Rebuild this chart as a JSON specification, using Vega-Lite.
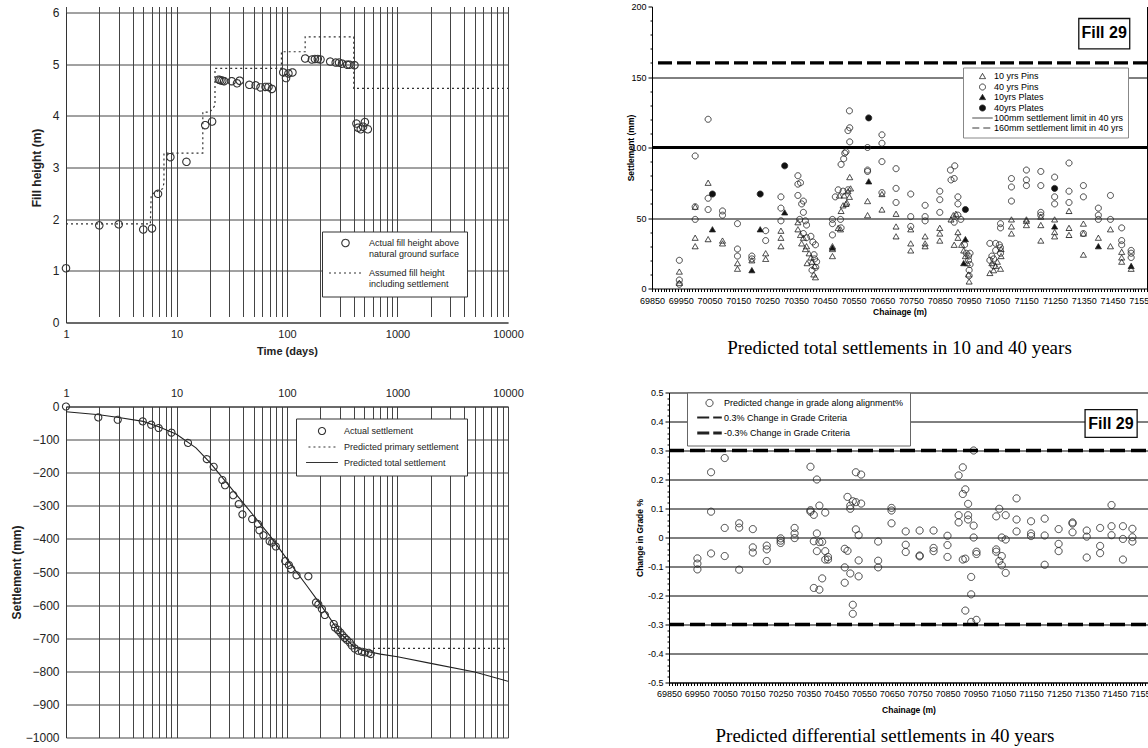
{
  "$schema": "https://vega.github.io/schema/vega-lite/v6.json",
  "background": "white",
  "padding": {"left": 10, "top": 2.5, "right": 0, "bottom": 0},
  "bounds": "flush",
  "spacing": 586,
  "resolve": {"scale": {"shape": "independent", "size": "independent", "fill": "independent", "strokeDash": "independent", "strokeWidth": "independent"}, "legend": {"shape": "independent", "size": "independent", "fill": "independent", "strokeDash": "independent", "strokeWidth": "independent"}},
  "config": {"view": {"stroke": null}, "font": "Liberation Sans"},
  "datasets": {
    "tl_pts": [
      {"t":1,"h":1.05,"k":"A"},{"t":2,"h":1.88,"k":"A"},{"t":3,"h":1.9,"k":"A"},{"t":5,"h":1.8,"k":"A"},{"t":6,"h":1.82,"k":"A"},{"t":6.8,"h":2.49,"k":"A"},{"t":8.8,"h":3.2,"k":"A"},{"t":12.3,"h":3.11,"k":"A"},{"t":18.2,"h":3.82,"k":"A"},{"t":21,"h":3.89,"k":"A"},{"t":24.2,"h":4.7,"k":"A"},{"t":25,"h":4.69,"k":"A"},{"t":26,"h":4.68,"k":"A"},{"t":27,"h":4.67,"k":"A"},{"t":31.6,"h":4.67,"k":"A"},{"t":35.3,"h":4.63,"k":"A"},{"t":37.3,"h":4.68,"k":"A"},{"t":45.6,"h":4.6,"k":"A"},{"t":52,"h":4.59,"k":"A"},{"t":57.6,"h":4.55,"k":"A"},{"t":64,"h":4.56,"k":"A"},{"t":68,"h":4.56,"k":"A"},{"t":73,"h":4.52,"k":"A"},{"t":92.5,"h":4.84,"k":"A"},{"t":98,"h":4.73,"k":"A"},{"t":103,"h":4.82,"k":"A"},{"t":112,"h":4.84,"k":"A"},{"t":146,"h":5.11,"k":"A"},{"t":168,"h":5.09,"k":"A"},{"t":179,"h":5.1,"k":"A"},{"t":190,"h":5.1,"k":"A"},{"t":201,"h":5.09,"k":"A"},{"t":246,"h":5.05,"k":"A"},{"t":276,"h":5.03,"k":"A"},{"t":296,"h":5.03,"k":"A"},{"t":315,"h":5.01,"k":"A"},{"t":350,"h":4.99,"k":"A"},{"t":367,"h":4.99,"k":"A"},{"t":408,"h":4.98,"k":"A"},{"t":425,"h":3.85,"k":"A"},{"t":440,"h":3.77,"k":"A"},{"t":465,"h":3.74,"k":"A"},{"t":488,"h":3.79,"k":"A"},{"t":507,"h":3.88,"k":"A"},{"t":539,"h":3.74,"k":"A"}
    ],
    "tl_step": [
      {"i":1,"t":1,"h":1.91},{"i":2,"t":5.8,"h":1.91},{"i":3,"t":5.9,"h":2.48},{"i":4,"t":7.5,"h":2.59},{"i":5,"t":7.7,"h":2.7},{"i":6,"t":7.7,"h":3.28},{"i":7,"t":17.3,"h":3.28},{"i":8,"t":17.3,"h":4.07},{"i":9,"t":20,"h":4.07},{"i":10,"t":22.3,"h":4.2},{"i":11,"t":22.3,"h":4.92},{"i":12,"t":89,"h":4.92},{"i":13,"t":89,"h":5.24},{"i":14,"t":146,"h":5.24},{"i":15,"t":146,"h":5.53},{"i":16,"t":402,"h":5.53},{"i":17,"t":402,"h":4.53},{"i":18,"t":10000,"h":4.53}
    ],
    "bl_pts": [
      {"t":1,"s":0,"k":"A"},{"t":1.96,"s":-33,"k":"A"},{"t":2.94,"s":-40,"k":"A"},{"t":4.95,"s":-45,"k":"A"},{"t":5.9,"s":-55,"k":"A"},{"t":6.9,"s":-65,"k":"A"},{"t":9,"s":-79,"k":"A"},{"t":12.7,"s":-110,"k":"A"},{"t":18.8,"s":-159,"k":"A"},{"t":21.7,"s":-182,"k":"A"},{"t":26,"s":-222,"k":"A"},{"t":27.5,"s":-238,"k":"A"},{"t":32.6,"s":-268,"k":"A"},{"t":36.6,"s":-295,"k":"A"},{"t":39.5,"s":-326,"k":"A"},{"t":48.4,"s":-340,"k":"A"},{"t":54.6,"s":-355,"k":"A"},{"t":56.3,"s":-374,"k":"A"},{"t":61.2,"s":-389,"k":"A"},{"t":69.7,"s":-407,"k":"A"},{"t":73.5,"s":-411,"k":"A"},{"t":79.3,"s":-423,"k":"A"},{"t":96.4,"s":-467,"k":"A"},{"t":104,"s":-479,"k":"A"},{"t":109,"s":-491,"k":"A"},{"t":122,"s":-510,"k":"A"},{"t":156,"s":-513,"k":"A"},{"t":183,"s":-592,"k":"A"},{"t":192,"s":-598,"k":"A"},{"t":207,"s":-612,"k":"A"},{"t":220,"s":-630,"k":"A"},{"t":265,"s":-657,"k":"A"},{"t":272,"s":-668,"k":"A"},{"t":289,"s":-675,"k":"A"},{"t":304,"s":-683,"k":"A"},{"t":318,"s":-691,"k":"A"},{"t":333,"s":-699,"k":"A"},{"t":348,"s":-705,"k":"A"},{"t":370,"s":-713,"k":"A"},{"t":386,"s":-722,"k":"A"},{"t":410,"s":-731,"k":"A"},{"t":442,"s":-738,"k":"A"},{"t":477,"s":-741,"k":"A"},{"t":507,"s":-743,"k":"A"},{"t":547,"s":-744,"k":"A"},{"t":572,"s":-748,"k":"A"}
    ],
    "bl_tot": [
      {"t":1,"s":-16},{"t":2,"s":-25},{"t":3,"s":-33},{"t":5,"s":-45},{"t":7,"s":-62},{"t":10,"s":-84},{"t":15,"s":-125},{"t":20,"s":-169},{"t":30,"s":-240},{"t":50,"s":-330},{"t":70,"s":-390},{"t":100,"s":-461},{"t":150,"s":-540},{"t":200,"s":-597},{"t":300,"s":-683},{"t":400,"s":-725},{"t":500,"s":-738},{"t":700,"s":-748},{"t":1000,"s":-756},{"t":2000,"s":-776},{"t":5000,"s":-802},{"t":10000,"s":-830}
    ],
    "bl_pri": [{"t":600,"s":-731},{"t":10000,"s":-731}],
    "tr_lim": [{"s":100,"k":"e"},{"s":160,"k":"f"}],
    "tr_pts": [
      {"c":69945,"s":20,"k":"b"},{"c":69945,"s":6,"k":"b"},{"c":69945,"s":3,"k":"b"},{"c":69945,"s":12,"k":"a"},{"c":69945,"s":4,"k":"a"},
      {"c":70000,"s":94,"k":"b"},{"c":70000,"s":58,"k":"b"},{"c":70000,"s":49,"k":"b"},{"c":70000,"s":58,"k":"a"},{"c":70000,"s":36,"k":"a"},{"c":70000,"s":30,"k":"a"},
      {"c":70045,"s":120,"k":"b"},{"c":70045,"s":64,"k":"b"},{"c":70045,"s":56,"k":"b"},{"c":70045,"s":75,"k":"a"},{"c":70045,"s":35,"k":"a"},
      {"c":70060,"s":67,"k":"d"},{"c":70060,"s":42,"k":"c"},
      {"c":70095,"s":55,"k":"b"},{"c":70095,"s":52,"k":"b"},{"c":70095,"s":34,"k":"a"},{"c":70095,"s":32,"k":"a"},
      {"c":70147,"s":46,"k":"b"},{"c":70147,"s":28,"k":"b"},{"c":70147,"s":23,"k":"b"},{"c":70147,"s":18,"k":"a"},{"c":70147,"s":14,"k":"a"},
      {"c":70197,"s":23,"k":"b"},{"c":70197,"s":21,"k":"b"},{"c":70197,"s":13,"k":"c"},{"c":70197,"s":20,"k":"a"},
      {"c":70226,"s":67,"k":"d"},{"c":70226,"s":42,"k":"c"},
      {"c":70245,"s":41,"k":"b"},{"c":70245,"s":34,"k":"b"},{"c":70245,"s":25,"k":"a"},{"c":70245,"s":21,"k":"a"},
      {"c":70298,"s":65,"k":"b"},{"c":70298,"s":57,"k":"b"},{"c":70298,"s":48,"k":"b"},{"c":70298,"s":41,"k":"a"},{"c":70298,"s":36,"k":"a"},{"c":70298,"s":30,"k":"a"},
      {"c":70311,"s":87,"k":"d"},{"c":70311,"s":54,"k":"c"},
      {"c":70357,"s":80,"k":"b"},{"c":70357,"s":74,"k":"b"},{"c":70366,"s":75,"k":"b"},{"c":70357,"s":66,"k":"b"},{"c":70370,"s":60,"k":"b"},{"c":70376,"s":62,"k":"b"},{"c":70376,"s":54,"k":"b"},{"c":70363,"s":49,"k":"b"},{"c":70383,"s":48,"k":"b"},{"c":70387,"s":45,"k":"b"},{"c":70376,"s":39,"k":"b"},{"c":70387,"s":36,"k":"b"},{"c":70402,"s":37,"k":"b"},{"c":70409,"s":33,"k":"b"},{"c":70413,"s":24,"k":"b"},{"c":70415,"s":21,"k":"b"},{"c":70422,"s":19,"k":"b"},{"c":70419,"s":15,"k":"b"},{"c":70406,"s":13,"k":"b"},{"c":70418,"s":31,"k":"b"},
      {"c":70357,"s":47,"k":"a"},{"c":70357,"s":42,"k":"a"},{"c":70366,"s":38,"k":"a"},{"c":70376,"s":36,"k":"a"},{"c":70370,"s":32,"k":"a"},{"c":70387,"s":30,"k":"a"},{"c":70383,"s":28,"k":"a"},{"c":70396,"s":25,"k":"a"},{"c":70402,"s":22,"k":"a"},{"c":70406,"s":19,"k":"a"},{"c":70415,"s":16,"k":"a"},{"c":70412,"s":10,"k":"a"},{"c":70418,"s":8,"k":"a"},{"c":70389,"s":18,"k":"a"},
      {"c":70477,"s":46,"k":"b"},{"c":70477,"s":38,"k":"b"},{"c":70477,"s":49,"k":"b"},{"c":70477,"s":28,"k":"a"},{"c":70477,"s":23,"k":"a"},{"c":70477,"s":30,"k":"a"},{"c":70477,"s":29,"k":"c"},
      {"c":70487,"s":65,"k":"b"},{"c":70497,"s":70,"k":"b"},{"c":70505,"s":49,"k":"b"},{"c":70507,"s":43,"k":"b"},{"c":70497,"s":43,"k":"a"},{"c":70505,"s":42,"k":"a"},{"c":70501,"s":66,"k":"a"},
      {"c":70507,"s":88,"k":"b"},{"c":70516,"s":92,"k":"b"},{"c":70520,"s":96,"k":"b"},{"c":70524,"s":97,"k":"b"},{"c":70531,"s":70,"k":"b"},{"c":70514,"s":69,"k":"b"},{"c":70507,"s":55,"k":"a"},{"c":70514,"s":59,"k":"a"},{"c":70524,"s":60,"k":"a"},{"c":70527,"s":61,"k":"a"},{"c":70518,"s":66,"k":"a"},{"c":70531,"s":69,"k":"a"},
      {"c":70531,"s":112,"k":"b"},{"c":70537,"s":114,"k":"b"},{"c":70537,"s":104,"k":"b"},{"c":70536,"s":126,"k":"b"},{"c":70537,"s":79,"k":"a"},{"c":70540,"s":71,"k":"a"},{"c":70536,"s":65,"k":"a"},
      {"c":70603,"s":121,"k":"d"},{"c":70603,"s":76,"k":"c"},
      {"c":70599,"s":100,"k":"b"},{"c":70599,"s":84,"k":"b"},{"c":70599,"s":83,"k":"b"},{"c":70599,"s":62,"k":"a"},{"c":70599,"s":52,"k":"a"},
      {"c":70649,"s":109,"k":"b"},{"c":70649,"s":103,"k":"b"},{"c":70649,"s":90,"k":"b"},{"c":70649,"s":68,"k":"b"},{"c":70649,"s":67,"k":"a"},{"c":70649,"s":56,"k":"a"},
      {"c":70698,"s":85,"k":"b"},{"c":70698,"s":71,"k":"b"},{"c":70698,"s":61,"k":"b"},{"c":70698,"s":53,"k":"a"},{"c":70698,"s":44,"k":"a"},{"c":70698,"s":37,"k":"a"},
      {"c":70749,"s":67,"k":"b"},{"c":70749,"s":51,"k":"b"},{"c":70749,"s":44,"k":"b"},{"c":70749,"s":42,"k":"a"},{"c":70749,"s":32,"k":"a"},{"c":70749,"s":27,"k":"a"},
      {"c":70799,"s":59,"k":"b"},{"c":70799,"s":51,"k":"b"},{"c":70799,"s":48,"k":"b"},{"c":70799,"s":37,"k":"a"},{"c":70799,"s":32,"k":"a"},{"c":70799,"s":30,"k":"a"},
      {"c":70850,"s":69,"k":"b"},{"c":70850,"s":63,"k":"b"},{"c":70850,"s":54,"k":"b"},{"c":70850,"s":43,"k":"a"},{"c":70850,"s":39,"k":"a"},{"c":70850,"s":34,"k":"a"},
      {"c":70887,"s":84,"k":"b"},{"c":70889,"s":77,"k":"b"},{"c":70900,"s":78,"k":"b"},{"c":70902,"s":87,"k":"b"},{"c":70913,"s":65,"k":"b"},{"c":70913,"s":60,"k":"b"},{"c":70913,"s":52,"k":"b"},{"c":70923,"s":49,"k":"b"},{"c":70900,"s":47,"k":"b"},{"c":70936,"s":31,"k":"b"},{"c":70942,"s":25,"k":"b"},{"c":70950,"s":20,"k":"b"},{"c":70955,"s":17,"k":"b"},{"c":70952,"s":13,"k":"b"},{"c":70952,"s":9,"k":"b"},{"c":70950,"s":23,"k":"b"},{"c":70955,"s":25,"k":"b"},
      {"c":70889,"s":49,"k":"a"},{"c":70897,"s":52,"k":"a"},{"c":70906,"s":53,"k":"a"},{"c":70900,"s":31,"k":"a"},{"c":70913,"s":40,"k":"a"},{"c":70913,"s":36,"k":"a"},{"c":70926,"s":31,"k":"a"},{"c":70933,"s":27,"k":"a"},{"c":70939,"s":23,"k":"a"},{"c":70946,"s":18,"k":"a"},{"c":70952,"s":5,"k":"a"},{"c":70950,"s":10,"k":"a"},
      {"c":70939,"s":56,"k":"d"},{"c":70939,"s":35,"k":"c"},{"c":70933,"s":18,"k":"c"},
      {"c":71024,"s":32,"k":"b"},{"c":71044,"s":32,"k":"b"},{"c":71031,"s":23,"k":"b"},{"c":71037,"s":21,"k":"b"},{"c":71044,"s":27,"k":"b"},{"c":71057,"s":31,"k":"b"},{"c":71061,"s":46,"k":"b"},{"c":71061,"s":43,"k":"b"},{"c":71024,"s":20,"k":"b"},{"c":71037,"s":16,"k":"b"},{"c":71061,"s":25,"k":"b"},{"c":71061,"s":29,"k":"b"},
      {"c":71024,"s":11,"k":"a"},{"c":71037,"s":13,"k":"a"},{"c":71044,"s":16,"k":"a"},{"c":71050,"s":19,"k":"a"},{"c":71063,"s":28,"k":"a"},{"c":71063,"s":23,"k":"a"},{"c":71061,"s":14,"k":"a"},{"c":71031,"s":18,"k":"a"},
      {"c":71099,"s":78,"k":"b"},{"c":71099,"s":72,"k":"b"},{"c":71099,"s":62,"k":"b"},{"c":71099,"s":49,"k":"a"},{"c":71099,"s":44,"k":"a"},{"c":71099,"s":39,"k":"a"},
      {"c":71151,"s":84,"k":"b"},{"c":71151,"s":77,"k":"b"},{"c":71151,"s":73,"k":"b"},{"c":71151,"s":48,"k":"a"},{"c":71151,"s":45,"k":"a"},{"c":71151,"s":49,"k":"a"},
      {"c":71201,"s":83,"k":"b"},{"c":71201,"s":73,"k":"b"},{"c":71201,"s":54,"k":"b"},{"c":71201,"s":52,"k":"b"},{"c":71201,"s":45,"k":"a"},{"c":71201,"s":34,"k":"a"},{"c":71201,"s":51,"k":"a"},
      {"c":71249,"s":79,"k":"b"},{"c":71249,"s":65,"k":"b"},{"c":71249,"s":60,"k":"b"},{"c":71249,"s":71,"k":"d"},{"c":71249,"s":44,"k":"c"},{"c":71249,"s":49,"k":"a"},{"c":71249,"s":40,"k":"a"},{"c":71249,"s":37,"k":"a"},
      {"c":71299,"s":89,"k":"b"},{"c":71299,"s":69,"k":"b"},{"c":71299,"s":61,"k":"b"},{"c":71299,"s":55,"k":"a"},{"c":71299,"s":43,"k":"a"},{"c":71299,"s":38,"k":"a"},
      {"c":71349,"s":73,"k":"b"},{"c":71349,"s":65,"k":"b"},{"c":71349,"s":39,"k":"b"},{"c":71349,"s":46,"k":"a"},{"c":71349,"s":39,"k":"a"},{"c":71349,"s":24,"k":"a"},
      {"c":71401,"s":57,"k":"b"},{"c":71401,"s":52,"k":"b"},{"c":71401,"s":49,"k":"b"},{"c":71401,"s":36,"k":"a"},{"c":71401,"s":30,"k":"c"},
      {"c":71443,"s":66,"k":"b"},{"c":71443,"s":49,"k":"b"},{"c":71443,"s":42,"k":"a"},{"c":71443,"s":30,"k":"a"},
      {"c":71482,"s":43,"k":"b"},{"c":71482,"s":34,"k":"b"},{"c":71482,"s":31,"k":"b"},{"c":71482,"s":26,"k":"a"},{"c":71482,"s":22,"k":"a"},{"c":71482,"s":19,"k":"a"},
      {"c":71515,"s":27,"k":"b"},{"c":71515,"s":25,"k":"b"},{"c":71515,"s":22,"k":"b"},{"c":71515,"s":16,"k":"c"},{"c":71515,"s":14,"k":"a"}
    ],
    "br_lim": [{"g":0.3,"k":"b"},{"g":-0.3,"k":"c"}],
    "br_pts": [
      {"c":69952,"g":-0.072,"k":"a"},{"c":69952,"g":-0.09,"k":"a"},{"c":69952,"g":-0.11,"k":"a"},
      {"c":70001,"g":0.225,"k":"a"},{"c":70001,"g":0.089,"k":"a"},{"c":70001,"g":-0.055,"k":"a"},
      {"c":70050,"g":0.274,"k":"a"},{"c":70050,"g":0.033,"k":"a"},{"c":70050,"g":-0.064,"k":"a"},
      {"c":70102,"g":0.049,"k":"a"},{"c":70102,"g":0.034,"k":"a"},{"c":70102,"g":-0.111,"k":"a"},
      {"c":70151,"g":0.029,"k":"a"},{"c":70151,"g":-0.034,"k":"a"},{"c":70151,"g":-0.052,"k":"a"},
      {"c":70201,"g":-0.028,"k":"a"},{"c":70201,"g":-0.041,"k":"a"},{"c":70201,"g":-0.081,"k":"a"},
      {"c":70251,"g":-0.003,"k":"a"},{"c":70251,"g":-0.011,"k":"a"},{"c":70251,"g":-0.019,"k":"a"},
      {"c":70301,"g":0.033,"k":"a"},{"c":70301,"g":0.014,"k":"a"},{"c":70301,"g":-0.002,"k":"a"},
      {"c":70358,"g":0.244,"k":"a"},{"c":70358,"g":0.094,"k":"a"},{"c":70358,"g":0.089,"k":"a"},
      {"c":70370,"g":0.078,"k":"a"},{"c":70370,"g":-0.013,"k":"a"},{"c":70370,"g":-0.174,"k":"a"},
      {"c":70381,"g":0.2,"k":"a"},{"c":70381,"g":0.014,"k":"a"},{"c":70381,"g":-0.047,"k":"a"},
      {"c":70390,"g":0.11,"k":"a"},{"c":70390,"g":-0.016,"k":"a"},{"c":70390,"g":-0.18,"k":"a"},
      {"c":70400,"g":-0.015,"k":"a"},{"c":70400,"g":-0.141,"k":"a"},
      {"c":70411,"g":0.086,"k":"a"},{"c":70411,"g":-0.047,"k":"a"},{"c":70411,"g":-0.076,"k":"a"},
      {"c":70421,"g":-0.067,"k":"a"},{"c":70421,"g":-0.076,"k":"a"},
      {"c":70481,"g":-0.039,"k":"a"},{"c":70481,"g":-0.103,"k":"a"},{"c":70481,"g":-0.156,"k":"a"},
      {"c":70491,"g":0.14,"k":"a"},{"c":70491,"g":-0.046,"k":"a"},
      {"c":70501,"g":0.11,"k":"a"},{"c":70501,"g":0.099,"k":"a"},{"c":70501,"g":-0.124,"k":"a"},
      {"c":70510,"g":0.125,"k":"a"},{"c":70510,"g":-0.232,"k":"a"},{"c":70510,"g":-0.263,"k":"a"},
      {"c":70521,"g":0.225,"k":"a"},{"c":70521,"g":0.122,"k":"a"},{"c":70521,"g":0.028,"k":"a"},
      {"c":70531,"g":0.008,"k":"a"},{"c":70531,"g":-0.079,"k":"a"},{"c":70531,"g":-0.134,"k":"a"},
      {"c":70540,"g":0.217,"k":"a"},{"c":70540,"g":0.117,"k":"a"},
      {"c":70601,"g":-0.014,"k":"a"},{"c":70601,"g":-0.08,"k":"a"},{"c":70601,"g":-0.103,"k":"a"},
      {"c":70649,"g":0.102,"k":"a"},{"c":70649,"g":0.093,"k":"a"},{"c":70649,"g":0.049,"k":"a"},
      {"c":70700,"g":0.021,"k":"a"},{"c":70700,"g":-0.025,"k":"a"},{"c":70700,"g":-0.05,"k":"a"},
      {"c":70750,"g":0.024,"k":"a"},{"c":70750,"g":-0.062,"k":"a"},{"c":70750,"g":-0.065,"k":"a"},
      {"c":70800,"g":0.024,"k":"a"},{"c":70800,"g":-0.036,"k":"a"},{"c":70800,"g":-0.047,"k":"a"},
      {"c":70850,"g":0.006,"k":"a"},{"c":70850,"g":-0.026,"k":"a"},{"c":70850,"g":-0.067,"k":"a"},
      {"c":70890,"g":0.214,"k":"a"},{"c":70890,"g":0.077,"k":"a"},{"c":70890,"g":0.052,"k":"a"},
      {"c":70905,"g":0.242,"k":"a"},{"c":70905,"g":0.15,"k":"a"},{"c":70905,"g":-0.076,"k":"a"},
      {"c":70914,"g":0.166,"k":"a"},{"c":70914,"g":-0.073,"k":"a"},{"c":70914,"g":-0.252,"k":"a"},
      {"c":70924,"g":0.116,"k":"a"},{"c":70924,"g":0.077,"k":"a"},{"c":70924,"g":0.062,"k":"a"},
      {"c":70935,"g":-0.136,"k":"a"},{"c":70935,"g":-0.196,"k":"a"},{"c":70935,"g":-0.291,"k":"a"},
      {"c":70944,"g":0.3,"k":"a"},{"c":70944,"g":0.041,"k":"a"},{"c":70944,"g":0,"k":"a"},
      {"c":70954,"g":-0.049,"k":"a"},{"c":70954,"g":-0.057,"k":"a"},{"c":70954,"g":-0.284,"k":"a"},
      {"c":71025,"g":0.073,"k":"a"},{"c":71025,"g":-0.041,"k":"a"},{"c":71025,"g":-0.049,"k":"a"},
      {"c":71036,"g":0.099,"k":"a"},{"c":71036,"g":-0.081,"k":"a"},
      {"c":71045,"g":0,"k":"a"},{"c":71045,"g":-0.064,"k":"a"},{"c":71045,"g":-0.096,"k":"a"},
      {"c":71059,"g":0.077,"k":"a"},{"c":71059,"g":-0.007,"k":"a"},{"c":71059,"g":-0.122,"k":"a"},
      {"c":71098,"g":0.135,"k":"a"},{"c":71098,"g":0.062,"k":"a"},{"c":71098,"g":0.021,"k":"a"},
      {"c":71150,"g":0.056,"k":"a"},{"c":71150,"g":0.014,"k":"a"},{"c":71150,"g":0.005,"k":"a"},
      {"c":71199,"g":0.065,"k":"a"},{"c":71199,"g":0.007,"k":"a"},{"c":71199,"g":-0.094,"k":"a"},
      {"c":71249,"g":0.029,"k":"a"},{"c":71249,"g":-0.022,"k":"a"},{"c":71249,"g":-0.047,"k":"a"},
      {"c":71299,"g":0.052,"k":"a"},{"c":71299,"g":0.048,"k":"a"},{"c":71299,"g":0.018,"k":"a"},
      {"c":71350,"g":0.024,"k":"a"},{"c":71350,"g":0.003,"k":"a"},{"c":71350,"g":-0.069,"k":"a"},
      {"c":71398,"g":0.033,"k":"a"},{"c":71398,"g":-0.029,"k":"a"},{"c":71398,"g":-0.054,"k":"a"},
      {"c":71439,"g":0.112,"k":"a"},{"c":71439,"g":0.039,"k":"a"},{"c":71439,"g":0.008,"k":"a"},
      {"c":71480,"g":0.039,"k":"a"},{"c":71480,"g":-0.005,"k":"a"},{"c":71480,"g":-0.076,"k":"a"},
      {"c":71514,"g":0.03,"k":"a"},{"c":71514,"g":0.001,"k":"a"},{"c":71514,"g":-0.014,"k":"a"}
    ]
  },
  "hconcat": [
    {
      "bounds": "flush",
      "spacing": 84,
      "resolve": {"scale": {"shape": "independent", "size": "independent", "strokeDash": "independent"}, "legend": {"shape": "independent", "size": "independent", "strokeDash": "independent"}},
      "vconcat": [
        {
          "width": 442,
          "height": 316,
          "layer": [
            {
              "data": {"name": "tl_step"},
              "mark": {"type": "line", "strokeDash": [2, 3], "color": "#333", "strokeWidth": 1.2, "clip": true},
              "encoding": {
                "x": {"field": "t", "type": "quantitative", "scale": {"type": "log", "domain": [1, 10000], "nice": false},
                  "axis": {"values": [1,2,3,4,5,6,7,8,9,10,20,30,40,50,60,70,80,90,100,200,300,400,500,600,700,800,900,1000,2000,3000,4000,5000,6000,7000,8000,9000,10000], "tickCount": 100,
                    "labelExpr": "indexof([1,10,100,1000,10000], datum.value) >= 0 ? format(datum.value, 'd') : ''",
                    "grid": true, "gridColor": "#444", "gridWidth": 1, "gridOpacity": 1, "ticks": false, "domainColor": "#333",
                    "labelFont": "Liberation Sans", "labelFontSize": 11, "labelColor": "#222", "labelPadding": 6, "labelOverlap": false, "labelFlush": false,
                    "title": "Time (days)", "titleFont": "Liberation Sans", "titleFontSize": 11, "titleFontWeight": "bold", "titleColor": "#222", "titlePadding": 6}},
                "y": {"field": "h", "type": "quantitative", "scale": {"domain": [0, 6], "range": [316, 6], "nice": false},
                  "axis": {"values": [0,1,2,3,4,5,6], "tickCount": 20, "format": "d", "grid": true, "gridColor": "#444", "gridWidth": 1, "gridOpacity": 1, "ticks": false, "domainColor": "#333",
                    "labelFont": "Liberation Sans", "labelFontSize": 12, "labelColor": "#222", "labelPadding": 7, "labelOverlap": false,
                    "title": "Fill height (m)", "titleFont": "Liberation Sans", "titleFontSize": 12, "titleFontWeight": "bold", "titleColor": "#222", "titlePadding": 9}},
                "order": {"field": "i", "type": "quantitative"}
              }
            },
            {
              "data": {"name": "tl_pts"},
              "mark": {"type": "point", "filled": false, "strokeWidth": 1.1, "color": "#333", "opacity": 1},
              "encoding": {
                "x": {"field": "t", "type": "quantitative"},
                "y": {"field": "h", "type": "quantitative"},
                "shape": {"field": "k", "type": "nominal", "scale": {"domain": ["A", "B"], "range": ["circle", "M-3,0L3,0"]},
                  "legend": {"orient": "none", "legendX": 256, "legendY": 225, "title": null, "fillColor": "white", "strokeColor": "#333",
                    "padding": 7, "rowPadding": 7, "symbolOffset": 10, "labelOffset": 17, "labelFont": "Liberation Sans", "labelFontSize": 9, "labelColor": "#222", "labelLimit": 300, "symbolStrokeColor": "#333", "symbolStrokeWidth": 1.1,
                    "labelExpr": "datum.label == 'A' ? ['Actual fill height above', 'natural ground surface'] : ['Assumed fill height', 'including settlement']"}},
                "size": {"field": "k", "type": "nominal", "scale": {"domain": ["A", "B"], "range": [55, 121]}},
                "strokeDash": {"field": "k", "type": "nominal", "scale": {"domain": ["A", "B"], "range": [[1, 0], [2, 3]]}}
              }
            }
          ]
        },
        {
          "width": 442,
          "height": 331,
          "layer": [
            {
              "data": {"name": "bl_tot"},
              "mark": {"type": "line", "color": "#222", "strokeWidth": 1.1, "clip": true},
              "encoding": {
                "x": {"field": "t", "type": "quantitative", "scale": {"type": "log", "domain": [1, 10000], "nice": false},
                  "axis": {"orient": "top", "values": [1,2,3,4,5,6,7,8,9,10,20,30,40,50,60,70,80,90,100,200,300,400,500,600,700,800,900,1000,2000,3000,4000,5000,6000,7000,8000,9000,10000], "tickCount": 100,
                    "labelExpr": "indexof([1,10,100,1000,10000], datum.value) >= 0 ? format(datum.value, 'd') : ''",
                    "grid": true, "gridColor": "#444", "gridWidth": 1, "gridOpacity": 1, "ticks": false, "domainColor": "#333",
                    "labelFont": "Liberation Sans", "labelFontSize": 11, "labelColor": "#222", "labelPadding": 8, "labelOverlap": false, "labelFlush": false,
                    "title": null}},
                "y": {"field": "s", "type": "quantitative", "scale": {"domain": [-1000, 0], "nice": false},
                  "axis": {"values": [-1000,-900,-800,-700,-600,-500,-400,-300,-200,-100,0], "tickCount": 20, "format": "d", "grid": true, "gridColor": "#444", "gridWidth": 1, "gridOpacity": 1, "ticks": false, "domainColor": "#333",
                    "labelFont": "Liberation Sans", "labelFontSize": 12, "labelColor": "#222", "labelPadding": 7, "labelOverlap": false,
                    "title": "Settlement (mm)", "titleFont": "Liberation Sans", "titleFontSize": 12, "titleFontWeight": "bold", "titleColor": "#222", "titlePadding": 2}}
              }
            },
            {
              "data": {"name": "bl_pri"},
              "mark": {"type": "line", "color": "#333", "strokeDash": [2, 3], "strokeWidth": 1.2, "clip": true},
              "encoding": {
                "x": {"field": "t", "type": "quantitative"},
                "y": {"field": "s", "type": "quantitative"}
              }
            },
            {
              "data": {"name": "bl_pts"},
              "mark": {"type": "point", "filled": false, "strokeWidth": 1.1, "color": "#333", "opacity": 1},
              "encoding": {
                "x": {"field": "t", "type": "quantitative"},
                "y": {"field": "s", "type": "quantitative"},
                "shape": {"field": "k", "type": "nominal", "scale": {"domain": ["A", "B", "C"], "range": ["circle", "M-3,0L3,0", "M-3,0L3,0"]},
                  "legend": {"orient": "none", "legendX": 230, "legendY": 12, "title": null, "fillColor": "white", "strokeColor": "#333",
                    "padding": 8, "rowPadding": 4, "symbolOffset": 12, "labelOffset": 16, "labelFont": "Liberation Sans", "labelFontSize": 9, "labelColor": "#222", "labelLimit": 300, "symbolStrokeColor": "#333", "symbolStrokeWidth": 1.1,
                    "labelExpr": "datum.label == 'A' ? 'Actual settlement' : datum.label == 'B' ? 'Predicted primary settlement' : 'Predicted total settlement'"}},
                "size": {"field": "k", "type": "nominal", "scale": {"domain": ["A", "B", "C"], "range": [50, 113, 113]}},
                "strokeDash": {"field": "k", "type": "nominal", "scale": {"domain": ["A", "B", "C"], "range": [[1, 0], [2, 3], [1, 0]]}}
              }
            }
          ]
        }
      ]
    },
    {
      "bounds": "flush",
      "spacing": 104,
      "resolve": {"scale": {"shape": "independent", "size": "independent", "fill": "independent", "strokeDash": "independent", "strokeWidth": "independent"}, "legend": {"shape": "independent", "size": "independent", "fill": "independent", "strokeDash": "independent", "strokeWidth": "independent"}},
      "vconcat": [
        {
          "width": 495,
          "height": 282,
          "title": {"text": "Predicted total settlements in 10 and 40 years", "orient": "bottom", "font": "Liberation Serif", "fontSize": 19, "fontWeight": "normal", "color": "#000", "offset": 23, "anchor": "middle"},
          "layer": [
            {
              "data": {"name": "tr_lim"},
              "mark": {"type": "rule", "strokeWidth": 3.2, "color": "#000"},
              "encoding": {
                "y": {"field": "s", "type": "quantitative", "scale": {"domain": [0, 200], "nice": false},
                  "axis": {"values": [0,10,20,30,40,50,60,70,80,90,100,110,120,130,140,150,160,170,180,190,200], "tickCount": 100, "labelOverlap": false,
                    "labelExpr": "datum.value % 50 == 0 ? format(datum.value, 'd') : ''",
                    "grid": true, "gridColor": "#000", "gridWidth": 1,
                    "gridOpacity": {"condition": {"test": "datum.value == 50 || datum.value == 150", "value": 1}, "value": 0},
                    "tickSize": {"condition": {"test": "datum.value % 50 == 0", "value": 4}, "value": 2},
                    "tickColor": "#000", "domainColor": "#000", "labelFont": "Liberation Sans", "labelFontSize": 9, "labelColor": "#000", "labelPadding": 2,
                    "title": "Settlement (mm)", "titleFont": "Liberation Sans", "titleFontSize": 8.5, "titleFontWeight": "bold", "titleColor": "#000", "titlePadding": -5}},
                "strokeDash": {"condition": {"test": "datum.k == 'f'", "value": [14, 5]}, "value": [1, 0]}
              }
            },
            {
              "data": {"name": "tr_pts"},
              "mark": {"type": "point", "filled": true, "opacity": 1, "stroke": "#222"},
              "encoding": {
                "x": {"field": "c", "type": "quantitative", "scale": {"domain": [69850, 71570], "nice": false, "zero": false},
                  "axis": {"tickCount": 172, "labelExpr": "(datum.value - 69850) % 100 == 0 ? format(datum.value, 'd') : ''", "labelOverlap": false, "labelFlush": false,
                    "grid": true, "gridColor": "#000", "gridWidth": 1, "gridOpacity": {"condition": {"test": "datum.value >= 71570", "value": 1}, "value": 0},
                    "tickSize": 3, "tickColor": "#000", "domainColor": "#000", "labelFont": "Liberation Sans", "labelFontSize": 9, "labelColor": "#000", "labelPadding": 5,
                    "title": "Chainage (m)", "titleFont": "Liberation Sans", "titleFontSize": 8.5, "titleFontWeight": "bold", "titleColor": "#000", "titlePadding": 2}},
                "y": {"field": "s", "type": "quantitative"},
                "shape": {"field": "k", "type": "nominal", "scale": {"domain": ["a", "b", "c", "d", "e", "f"], "range": ["triangle-up", "circle", "triangle-up", "circle", "M-3.4,0L3.4,0", "M-3.4,0L3.4,0"]},
                  "legend": {"orient": "none", "legendX": 311, "legendY": 61, "title": null, "fillColor": "white", "strokeColor": "#888",
                    "padding": 4, "rowPadding": 0, "symbolOffset": 11, "labelOffset": 7, "labelFont": "Liberation Sans", "labelFontSize": 9, "labelColor": "#000", "labelLimit": 400, "symbolStrokeColor": "#111",
                    "labelExpr": "datum.label == 'a' ? '10 yrs Pins' : datum.label == 'b' ? '40 yrs Pins' : datum.label == 'c' ? '10yrs Plates' : datum.label == 'd' ? '40yrs Plates' : datum.label == 'e' ? '100mm settlement limit in 40 yrs' : '160mm settlement limit in 40 yrs'"}},
                "fill": {"field": "k", "type": "nominal", "scale": {"domain": ["a", "b", "c", "d", "e", "f"], "range": ["transparent", "transparent", "#111", "#111", "#111", "#111"]}},
                "size": {"field": "k", "type": "nominal", "scale": {"domain": ["a", "b", "c", "d", "e", "f"], "range": [36, 36, 110, 150, 49, 49]}},
                "strokeWidth": {"field": "k", "type": "nominal", "scale": {"domain": ["a", "b", "c", "d", "e", "f"], "range": [0.9, 0.9, 0.9, 0.9, 3, 3]}},
                "strokeDash": {"field": "k", "type": "nominal", "scale": {"domain": ["a", "b", "c", "d", "e", "f"], "range": [[1, 0], [1, 0], [1, 0], [1, 0], [1, 0], [7, 4]]}}
              }
            },
            {
              "data": {"values": [{}]},
              "mark": {"type": "rect", "fill": "white", "stroke": "#111", "strokeWidth": 1.3},
              "encoding": {
                "x": {"datum": 71333, "type": "quantitative"},
                "x2": {"datum": 71510},
                "y": {"datum": 170, "type": "quantitative"},
                "y2": {"datum": 191.5}
              }
            },
            {
              "data": {"values": [{}]},
              "mark": {"type": "text", "text": "Fill 29", "font": "Liberation Sans", "fontSize": 16, "fontWeight": "bold", "color": "#000"},
              "encoding": {
                "x": {"datum": 71421, "type": "quantitative"},
                "y": {"datum": 181, "type": "quantitative"}
              }
            }
          ]
        },
        {
          "width": 496,
          "height": 290,
          "title": {"text": "Predicted differential settlements in 40 years", "orient": "bottom", "font": "Liberation Serif", "fontSize": 19, "fontWeight": "normal", "color": "#000", "offset": 13, "anchor": "middle", "dx": -15},
          "layer": [
            {
              "data": {"name": "br_pts"},
              "mark": {"type": "point", "filled": false, "opacity": 1, "stroke": "#222"},
              "encoding": {
                "x": {"field": "c", "type": "quantitative", "scale": {"domain": [69850, 71570], "range": [17, 496], "nice": false, "zero": false},
                  "axis": {"tickCount": 172, "labelExpr": "(datum.value - 69850) % 100 == 0 ? format(datum.value, 'd') : ''", "labelOverlap": false, "labelFlush": false,
                    "grid": true, "gridColor": "#000", "gridWidth": 1, "gridOpacity": {"condition": {"test": "datum.value >= 71570", "value": 1}, "value": 0},
                    "tickSize": 3, "tickColor": "#000", "domainColor": "#000", "labelFont": "Liberation Sans", "labelFontSize": 9, "labelColor": "#000", "labelPadding": 4,
                    "title": "Chainage (m)", "titleFont": "Liberation Sans", "titleFontSize": 8.5, "titleFontWeight": "bold", "titleColor": "#000", "titlePadding": 7}},
                "y": {"field": "g", "type": "quantitative", "scale": {"domain": [-0.5, 0.5], "nice": false},
                  "axis": {"offset": -17, "values": [-0.5,-0.48,-0.46,-0.44,-0.42,-0.4,-0.38,-0.36,-0.34,-0.32,-0.3,-0.28,-0.26,-0.24,-0.22,-0.2,-0.18,-0.16,-0.14,-0.12,-0.1,-0.08,-0.06,-0.04,-0.02,0,0.02,0.04,0.06,0.08,0.1,0.12,0.14,0.16,0.18,0.2,0.22,0.24,0.26,0.28,0.3,0.32,0.34,0.36,0.38,0.4,0.42,0.44,0.46,0.48,0.5], "tickCount": 200, "labelOverlap": false,
                    "labelExpr": "abs(datum.value * 10 - round(datum.value * 10)) < 0.01 ? (abs(datum.value) < 0.001 ? '0' : (datum.value < 0 ? '-' : '') + format(abs(datum.value), '.1f')) : ''",
                    "grid": true, "gridColor": "#000", "gridWidth": 1,
                    "gridOpacity": {"condition": {"test": "abs(datum.value * 10 - round(datum.value * 10)) < 0.01", "value": 1}, "value": 0},
                    "tickSize": {"condition": {"test": "abs(datum.value * 10 - round(datum.value * 10)) < 0.01", "value": 4}, "value": 2},
                    "tickColor": "#000", "domainColor": "#000", "labelFont": "Liberation Sans", "labelFontSize": 9, "labelColor": "#000", "labelPadding": 2,
                    "title": "Change in Grade %", "titleFont": "Liberation Sans", "titleFontSize": 8.5, "titleFontWeight": "bold", "titleColor": "#000", "titlePadding": 3}},
                "shape": {"field": "k", "type": "nominal", "scale": {"domain": ["a", "b", "c"], "range": ["circle", "M-3.5,0L3.5,0", "M-3.5,0L3.5,0"]},
                  "legend": {"orient": "none", "legendX": 35, "legendY": 0, "title": null, "fillColor": "white", "strokeColor": "#666",
                    "padding": 6, "rowPadding": 4, "symbolOffset": 11, "labelOffset": 9, "labelFont": "Liberation Sans", "labelFontSize": 9, "labelColor": "#000", "labelLimit": 400, "symbolStrokeColor": "#111",
                    "labelExpr": "datum.label == 'a' ? 'Predicted change in grade along alignment%' : datum.label == 'b' ? '0.3% Change in Grade Criteria' : '-0.3% Change in Grade Criteria'"}},
                "size": {"field": "k", "type": "nominal", "scale": {"domain": ["a", "b", "c"], "range": [50, 49, 49]}},
                "strokeWidth": {"field": "k", "type": "nominal", "scale": {"domain": ["a", "b", "c"], "range": [0.9, 3.2, 3.2]}},
                "strokeDash": {"field": "k", "type": "nominal", "scale": {"domain": ["a", "b", "c"], "range": [[1, 0], [12, 4], [12, 4]]}}
              }
            },
            {
              "data": {"name": "br_lim"},
              "mark": {"type": "rule", "strokeWidth": 3.3, "color": "#000", "strokeDash": [15, 6]},
              "encoding": {
                "x": {"datum": 69850, "type": "quantitative"},
                "x2": {"datum": 71570},
                "y": {"field": "g", "type": "quantitative"}
              }
            },
            {
              "data": {"values": [{}]},
              "mark": {"type": "rect", "fill": "white", "stroke": "#111", "strokeWidth": 1.3},
              "encoding": {
                "x": {"datum": 71344, "type": "quantitative"},
                "x2": {"datum": 71531},
                "y": {"datum": 0.345, "type": "quantitative"},
                "y2": {"datum": 0.441}
              }
            },
            {
              "data": {"values": [{}]},
              "mark": {"type": "text", "text": "Fill 29", "font": "Liberation Sans", "fontSize": 16, "fontWeight": "bold", "color": "#000"},
              "encoding": {
                "x": {"datum": 71437, "type": "quantitative"},
                "y": {"datum": 0.393, "type": "quantitative"}
              }
            }
          ]
        }
      ]
    }
  ]
}
